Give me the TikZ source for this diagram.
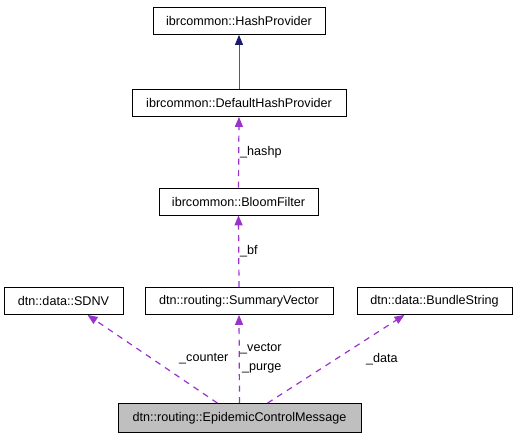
\documentclass[tikz,border=0pt]{standalone}
\usepackage{fontspec}
\setmainfont{Liberation Sans}
\usetikzlibrary{arrows.meta}
\definecolor{usescolor}{RGB}{154,50,205}
\definecolor{inheritcolor}{RGB}{25,25,112}
\definecolor{focusgray}{RGB}{191,191,191}

\begin{document}
\begin{tikzpicture}[x=1pt, y=-1pt,
  every node/.style={font=\fontsize{12.6}{14}\selectfont},
  classbox/.style={draw=black, thick, minimum height=27pt, inner sep=0pt},
  usesedge/.style={draw=usescolor, line width=1.2pt, dash pattern=on 6pt off 5.5pt,
    -{Triangle[length=10pt, width=8pt, fill=usescolor]}},
  inheritedge/.style={draw=inheritcolor!75!white, line width=0.9pt,
    -{Triangle[length=10pt, width=8pt, fill=inheritcolor, color=inheritcolor]}},
  edgelabel/.style={inner sep=0pt, anchor=west}]
\useasboundingbox (0,0) rectangle (517,440);
\node[classbox, minimum width=172pt] (hash) at (239, 21){ibrcommon::HashProvider};
\node[classbox, minimum width=214pt] (defhash) at (239, 103){ibrcommon::DefaultHashProvider};
\node[classbox, minimum width=159pt] (bloom) at (238.5, 201.5){ibrcommon::BloomFilter};
\node[classbox, minimum width=119pt] (sdnv) at (63.5, 301){dtn::data::SDNV};
\node[classbox, minimum width=188pt] (sumvec) at (239, 301){dtn::routing::SummaryVector};
\node[classbox, minimum width=155pt] (bundle) at (434.5, 301){dtn::data::BundleString};
\node[classbox, minimum width=243pt, minimum height=29pt, fill=focusgray] (ecm) at (239.5, 418){dtn::routing::EpidemicControlMessage};
% edges
\draw[inheritedge] (defhash.north) -- (hash.south);
\draw[usesedge] (bloom.north) -- (defhash.south);
\draw[usesedge] (sumvec.north) -- (bloom.south);
\draw[usesedge] ([xshift=-22pt]ecm.north) -- ([xshift=24pt]sdnv.south);
\draw[usesedge] (ecm.north) -- (sumvec.south);
\draw[usesedge] ([xshift=28pt]ecm.north) -- ([xshift=-30pt]bundle.south);
% labels
\node[edgelabel] (hashp) at (240, 152){\_hashp};
\node[edgelabel] (bf) at (240, 251){\_bf};
\node[edgelabel] (counter) at (179, 359){\_counter};
\node[edgelabel] (vector) at (240, 349){\_vector};
\node[edgelabel] (purge) at (242, 368){\_purge};
\node[edgelabel] (data) at (366, 359){\_data};
\end{tikzpicture}
\end{document}
